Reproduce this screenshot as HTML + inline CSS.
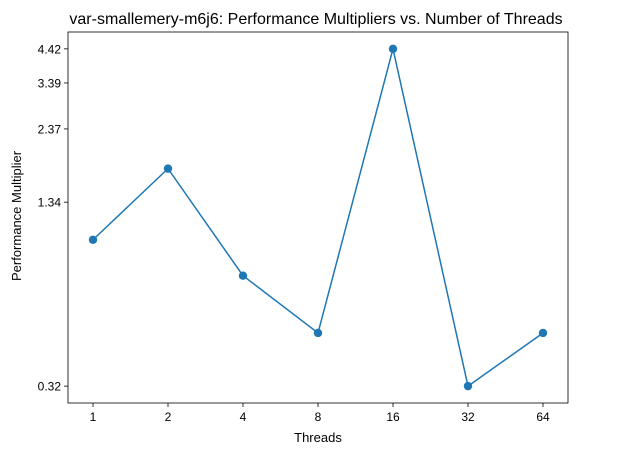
<!DOCTYPE html>
<html><head><meta charset="utf-8"><style>
html,body{margin:0;padding:0;background:#fff;}
svg{display:block;font-family:"Liberation Sans","DejaVu Sans",sans-serif;}
</style></head><body>
<svg id="chart" width="620" height="455" viewBox="0 0 620 455">
<text x="316" y="24" text-anchor="middle" font-size="16" fill="#000">var-smallemery-m6j6: Performance Multipliers vs. Number of Threads</text>
<rect x="68" y="32" width="500" height="371" fill="none" stroke="#000" stroke-width="0.8"/>
<g id="xticks"></g><g id="yticks"></g>
<text x="318" y="442" text-anchor="middle" font-size="13">Threads</text>
<text transform="translate(21,216) rotate(-90)" text-anchor="middle" font-size="13">Performance Multiplier</text>
<g id="series"></g>
</svg>
<script>
const categories = ["1","2","4","8","16","32","64"];
const values = [1.0, 1.74, 0.756, 0.484, 4.42, 0.32, 0.484];
const yTicks = [0.32, 1.34, 2.37, 3.39, 4.42];
const yTickLabels = ["0.32","1.34","2.37","3.39","4.42"];

const NS = "http://www.w3.org/2000/svg";
const L=68,R=568,T=32,B=403;
const n=categories.length;
function xPos(i){const pad=(R-L)*0.05;return L+pad+i*((R-L)*0.9/(n-1));}
const lmin=Math.log(Math.min(...values)), lmax=Math.log(Math.max(...values));
const span=lmax-lmin;
function yPos(v){const lo=lmin-span*0.05, hi=lmax+span*0.05;return B-(Math.log(v)-lo)/(hi-lo)*(B-T);}
function mk(tag,attrs,parent){const e=document.createElementNS(NS,tag);for(const k in attrs)e.setAttribute(k,attrs[k]);parent.appendChild(e);return e;}

const xt=document.getElementById('xticks');
categories.forEach((c,i)=>{
  const x=xPos(i);
  const t=mk('line',{x1:x,x2:x,y1:B,y2:B+4,stroke:'#000','stroke-width':0.8},xt);
  
  
  const l=mk('text',{x:x,y:B+18,'text-anchor':'middle','font-size':12},xt);
  l.textContent=c;
  
  
});
const yt=document.getElementById('yticks');
yTicks.forEach((v,i)=>{
  const y=yPos(v);
  const t=mk('line',{x1:L-4,x2:L,y1:y,y2:y,stroke:'#000','stroke-width':0.8},yt);
  
  
  const l=mk('text',{x:L-7,y:y+4.5,'text-anchor':'end','font-size':12},yt);
  l.textContent=yTickLabels[i];
  
  
});
const s=document.getElementById('series');
const pts=values.map((v,i)=>xPos(i)+','+yPos(v)).join(' ');
const line=mk('polyline',{points:pts,fill:'none',stroke:'#1f77b4','stroke-width':1.5},s);


values.forEach((v,i)=>{
  const c=mk('circle',{cx:xPos(i),cy:yPos(v),r:4.2,fill:'#1f77b4'},s);
  
  
});
</script>
</body></html>
